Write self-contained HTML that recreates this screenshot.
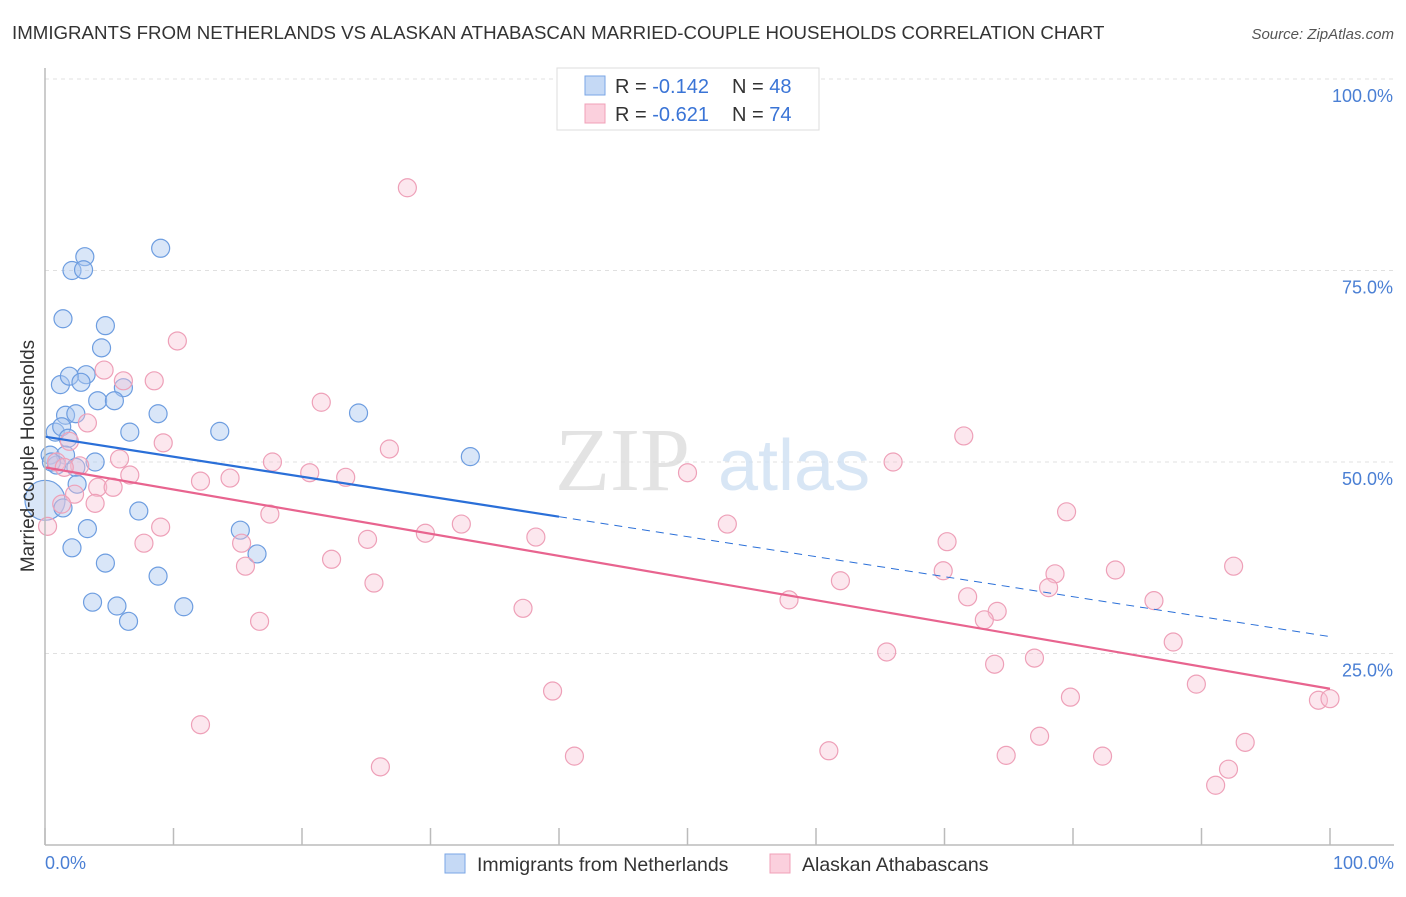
<!DOCTYPE html>
<html><head><meta charset="utf-8"><style>
body{margin:0;background:#fff;font-family:"Liberation Sans",sans-serif}
</style></head><body>
<svg id="chart" width="1406" height="892" xmlns="http://www.w3.org/2000/svg" style="font-family:'Liberation Sans',sans-serif">
<text x="12" y="39" font-size="18.7" fill="#333">IMMIGRANTS FROM NETHERLANDS VS ALASKAN ATHABASCAN MARRIED-COUPLE HOUSEHOLDS CORRELATION CHART</text>
<text x="1394" y="39" font-size="15" fill="#555" text-anchor="end" font-style="italic">Source: ZipAtlas.com</text>
<g id="grid"></g>
<text x="555" y="490" font-size="90" fill="#ddd" font-family="Liberation Serif" opacity="0.8">ZIP</text>
<text x="718" y="490" font-size="72" fill="#cfe0f3" opacity="0.8">atlas</text>
<g id="marks"></g>
<line x1="45" y1="68" x2="45" y2="845" stroke="#bbb" stroke-width="1.5"/>
<line x1="45" y1="845" x2="1394" y2="845" stroke="#bbb" stroke-width="1.5"/>
<text transform="translate(34,456) rotate(-90)" font-size="19" fill="#333" text-anchor="middle">Married-couple Households</text>
<text x="45" y="869" font-size="18" fill="#4a7fd4">0.0%</text>
<text x="1394" y="869" font-size="18" fill="#4a7fd4" text-anchor="end">100.0%</text>
<g>
<rect x="557" y="68" width="262" height="62" fill="#fff" stroke="#ddd"/>
<rect x="585" y="76" width="20" height="19" fill="#c5d9f5" stroke="#7aa6e6"/>
<rect x="585" y="104" width="20" height="19" fill="#fbd0dd" stroke="#f0a0b8"/>
<text x="615" y="93" font-size="20" fill="#333">R = <tspan fill="#3a74d6">-0.142</tspan></text>
<text x="732" y="93" font-size="20" fill="#333">N = <tspan fill="#3a74d6">48</tspan></text>
<text x="615" y="121" font-size="20" fill="#333">R = <tspan fill="#3a74d6">-0.621</tspan></text>
<text x="732" y="121" font-size="20" fill="#333">N = <tspan fill="#3a74d6">74</tspan></text>
</g>
<g>
<rect x="445" y="854" width="20" height="19" fill="#c5d9f5" stroke="#7aa6e6"/>
<text x="477" y="871" font-size="19.5" fill="#333">Immigrants from Netherlands</text>
<rect x="770" y="854" width="20" height="19" fill="#fbd0dd" stroke="#f0a0b8"/>
<text x="802" y="871" font-size="19.5" fill="#333">Alaskan Athabascans</text>
</g>
</svg>
<script>
const yTicks=[25,50,75,100];
const yTickLabels=["25.0%","50.0%","75.0%","100.0%"];
const xTicks=[0,10,20,30,40,50,60,70,80,90,100];
const blueX=[9.0,3.1,2.1,3.0,1.4,4.7,4.4,3.2,1.2,1.9,2.8,6.1,4.1,5.4,8.8,24.4,1.6,2.4,0.8,1.3,1.8,6.6,13.6,33.1,0.4,1.6,3.9,2.4,0.9,0.5,2.5,0,1.4,7.3,3.3,15.2,2.1,4.7,16.5,8.8,3.7,5.6,10.8,6.5];
const blueY=[77.9,76.8,75.0,75.1,68.7,67.8,64.9,61.4,60.1,61.2,60.4,59.7,58.0,58.0,56.3,56.4,56.1,56.3,53.9,54.6,53.1,53.9,54.0,50.7,50.9,50.9,50.0,49.3,49.6,50.0,47.1,45.0,44.0,43.6,41.3,41.1,38.8,36.8,38.0,35.1,31.7,31.2,31.1,29.2];
const pinkX=[28.2,10.3,4.6,6.1,8.5,21.5,3.3,1.9,9.2,26.8,5.8,0.9,2.7,6.6,17.7,20.6,23.4,14.4,12.1,1.5,4.1,5.3,2.3,3.9,1.3,17.5,50.0,66.0,71.5,79.5,53.1,32.4,29.6,25.1,38.2,15.3,7.7,9.0,0.2,22.3,15.6,25.6,70.2,69.9,61.9,78.6,83.3,92.5,78.1,71.8,74.1,73.1,57.9,37.2,86.3,16.7,87.8,65.5,73.9,77.0,89.6,79.8,39.5,99.1,100,12.1,61.0,41.2,74.8,77.4,82.3,93.4,26.1,92.1,91.1];
const pinkY=[85.8,65.8,62.0,60.6,60.6,57.8,55.1,52.7,52.5,51.7,50.4,50.0,49.5,48.3,50.0,48.6,48.0,47.9,47.5,49.3,46.7,46.7,45.8,44.6,44.5,43.2,48.6,50.0,53.4,43.5,41.9,41.9,40.7,39.9,40.2,39.4,39.4,41.5,41.6,37.3,36.4,34.2,39.6,35.8,34.5,35.4,35.9,36.4,33.6,32.4,30.5,29.4,32.0,30.9,31.9,29.2,26.5,25.2,23.6,24.4,21.0,19.3,20.1,18.9,19.1,15.7,12.3,11.6,11.7,14.2,11.6,13.4,10.2,9.9,7.8];
const blueTrend=[53.3,27.2];
const blueSolidEnd=40;
const pinkTrend=[49.3,20.4];
const NS="http://www.w3.org/2000/svg";
const sx=v=>45+v*12.85, sy=v=>845-v*7.66;
function mk(tag,attrs,parent){const e=document.createElementNS(NS,tag);for(const k in attrs)e.setAttribute(k,attrs[k]);parent.appendChild(e);return e;}
const grid=document.getElementById('grid'), marks=document.getElementById('marks');
yTicks.forEach((t,i)=>{
  const l=mk('line',{x1:45,x2:1394,y1:sy(t),y2:sy(t),stroke:'#e0e0e0','stroke-dasharray':'4,4'},grid);
  
  
  const tx=mk('text',{x:1393,y:sy(t)+23,'font-size':18,fill:'#4a7fd4','text-anchor':'end'},grid);
  tx.textContent=yTickLabels[i];
  
  
});
xTicks.forEach(t=>{
  const l=mk('line',{x1:sx(t),x2:sx(t),y1:828,y2:845,stroke:'#bbb','stroke-width':1.5},grid);
  
  
});
blueX.forEach((x,i)=>{
  const r=(x===0)?20:9;
  const c=mk('circle',{cx:sx(x),cy:sy(blueY[i]),r:r,fill:'rgba(170,200,240,0.45)',stroke:'#6d9de0','stroke-width':1.2},marks);
  
  
});
pinkX.forEach((x,i)=>{
  const c=mk('circle',{cx:sx(x),cy:sy(pinkY[i]),r:9,fill:'rgba(248,195,212,0.4)',stroke:'#eea0b8','stroke-width':1.2},marks);
  
  
});
const by=x=>blueTrend[0]+(blueTrend[1]-blueTrend[0])*x/100;
let l1=mk('line',{x1:sx(0),y1:sy(by(0)),x2:sx(blueSolidEnd),y2:sy(by(blueSolidEnd)),stroke:'#2a6fd8','stroke-width':2.2},marks);


let l2=mk('line',{x1:sx(blueSolidEnd),y1:sy(by(blueSolidEnd)),x2:sx(100),y2:sy(by(100)),stroke:'#2a6fd8','stroke-width':1,'stroke-dasharray':'8,6'},marks);


let l3=mk('line',{x1:sx(0),y1:sy(pinkTrend[0]),x2:sx(100),y2:sy(pinkTrend[1]),stroke:'#e8648f','stroke-width':2.2},marks);


</script>
</body></html>
